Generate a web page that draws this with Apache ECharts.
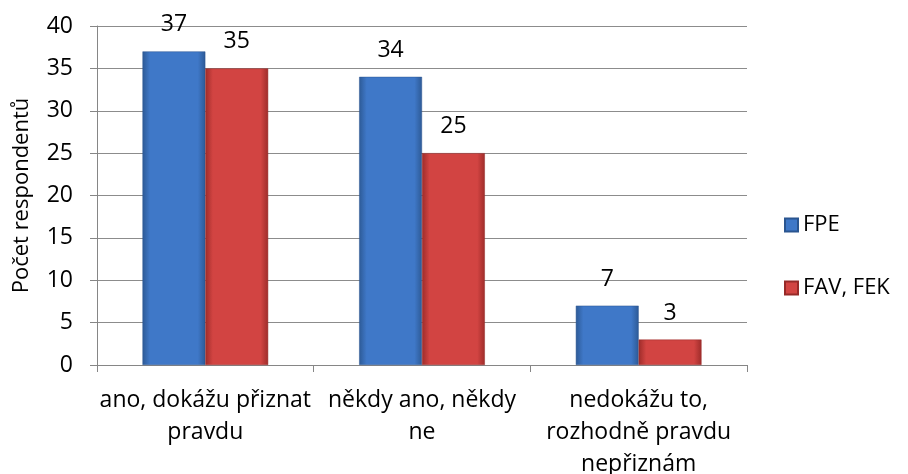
<!DOCTYPE html>
<html>
<head>
<meta charset="utf-8">
<script src="https://cdn.jsdelivr.net/npm/echarts@6/dist/echarts.min.js"></script>
<style>html,body{margin:0;padding:0;background:#fff}#c{width:908px;height:474px}</style>
</head>
<body>
<div id="c"></div>
<script>
var categories = ['ano, dokážu přiznat\npravdu', 'někdy ano, někdy\nne', 'nedokážu to,\nrozhodně pravdu\nnepřiznám'];
var seriesNames = ['FPE', 'FAV, FEK'];
var fpeValues = [37, 34, 7];
var favFekValues = [35, 25, 3];
var yTicks = {min: 0, max: 40, interval: 5};

var FONT = 'Open Sans';
function grad(edge, mid) {
  return new echarts.graphic.LinearGradient(0, 0, 1, 0, [
    {offset: 0, color: edge}, {offset: 0.12, color: mid}, {offset: 0.88, color: mid}, {offset: 1, color: edge}
  ]);
}
var blue = grad('#2d5a96', '#3f78c8');
var red = grad('#9e2c2a', '#d24442');
var chart = echarts.init(document.getElementById('c'));
chart.setOption({
  animation: false,
  textStyle: {fontFamily: FONT},
  grid: {left: 97, right: 161, top: 26, bottom: 109, containLabel: false, outerBoundsMode: 'none'},
  legend: {
    orient: 'vertical', left: 779, top: 209, itemGap: 41, itemWidth: 13, itemHeight: 13,
    icon: 'rect',
    textStyle: {fontFamily: FONT, fontSize: 22, color: '#000'},
    data: seriesNames
  },
  xAxis: {
    type: 'category', data: categories,
    axisLine: {lineStyle: {color: '#868686'}},
    axisTick: {show: true, length: 7, lineStyle: {color: '#868686'}},
    axisLabel: {color: '#000', fontSize: 23, lineHeight: 32, margin: 19, interval: 0}
  },
  yAxis: {
    type: 'value', min: yTicks.min, max: yTicks.max, interval: yTicks.interval,
    name: 'Počet respondentů', nameLocation: 'middle', nameGap: 64, nameRotate: 90,
    nameTextStyle: {color: '#000', fontSize: 22, fontFamily: FONT},
    axisLine: {show: true, lineStyle: {color: '#868686'}},
    axisTick: {show: true, length: 7, lineStyle: {color: '#868686'}},
    axisLabel: {color: '#000', fontSize: 23, margin: 24},
    splitLine: {lineStyle: {color: '#8c8c8c', width: 1}}
  },
  series: [
    {name: seriesNames[0], type: 'bar', data: fpeValues, barGap: '0%', barCategoryGap: '42%',
     itemStyle: {color: blue, borderColor: '#2a5590', borderWidth: 0.5},
     label: {show: true, position: 'top', distance: 15, color: '#000', fontSize: 23, fontFamily: FONT}},
    {name: seriesNames[1], type: 'bar', data: favFekValues, barGap: '0%', barCategoryGap: '42%',
     itemStyle: {color: red, borderColor: '#962a28', borderWidth: 0.5},
     label: {show: true, position: 'top', distance: 15, color: '#000', fontSize: 23, fontFamily: FONT}}
  ]
});
</script>
</body>
</html>
